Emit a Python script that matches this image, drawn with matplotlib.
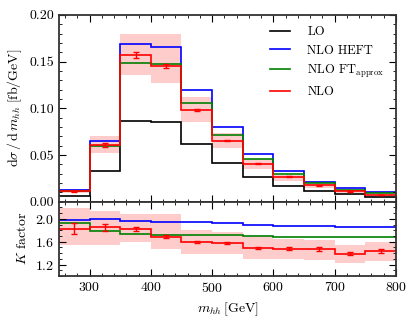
import numpy as np
import matplotlib
matplotlib.use("Agg")
import matplotlib.pyplot as plt
from matplotlib.ticker import MultipleLocator

plt.rcParams['font.family'] = 'serif'
plt.rcParams['font.serif'] = ['cmr10', 'DejaVu Serif']
plt.rcParams['mathtext.fontset'] = 'cm'
plt.rcParams['axes.formatter.use_mathtext'] = True
plt.rcParams['font.size'] = 10

# bin edges in m_hh [GeV]
edges = [250, 300, 350, 400, 450, 500, 550, 600, 650, 700, 750, 800]

# dsigma/dm_hh [fb/GeV]
lo = [0.0060, 0.033, 0.086, 0.085, 0.062, 0.0414, 0.0268, 0.0172, 0.0111, 0.0078, 0.0050]
nlo_heft = [0.0125, 0.065, 0.169, 0.166, 0.120, 0.080, 0.0514, 0.0329, 0.0214, 0.0147, 0.0104]
nlo_ft = [0.0115, 0.060, 0.149, 0.147, 0.106, 0.071, 0.046, 0.030, 0.0197, 0.0129, 0.0090]
nlo = [0.0110, 0.061, 0.157, 0.145, 0.098, 0.0654, 0.0407, 0.0265, 0.0175, 0.0112, 0.0072]
nlo_err = [0.0007, 0.002, 0.003, 0.002, 0.001, 0.0007, 0.0006, 0.0005, 0.0004, 0.0003, 0.0003]
nlo_band_hi = [0.0131, 0.070, 0.180, 0.180, 0.112, 0.074, 0.0456, 0.0282, 0.0192, 0.0124, 0.0080]
nlo_band_lo = [0.0092, 0.052, 0.136, 0.127, 0.085, 0.057, 0.0348, 0.0224, 0.0148, 0.0098, 0.0063]

# K factors
k_heft = [1.98, 1.99, 1.96, 1.95, 1.94, 1.92, 1.90, 1.88, 1.87, 1.86, 1.86]
k_ft = [1.92, 1.79, 1.74, 1.72, 1.72, 1.71, 1.70, 1.69, 1.69, 1.69, 1.69]
k_nlo = [1.83, 1.85, 1.82, 1.69, 1.59, 1.58, 1.49, 1.48, 1.47, 1.39, 1.44]
k_nlo_err = [0.09, 0.065, 0.035, 0.02, 0.015, 0.015, 0.02, 0.025, 0.03, 0.025, 0.035]
k_band_hi = [2.19, 2.13, 2.09, 2.09, 1.80, 1.77, 1.70, 1.64, 1.63, 1.55, 1.59]
k_band_lo = [1.54, 1.54, 1.59, 1.48, 1.38, 1.39, 1.30, 1.30, 1.28, 1.22, 1.26]

centers = [(edges[i] + edges[i + 1]) / 2 for i in range(len(edges) - 1)]

fig = plt.figure(figsize=(4.15, 3.24), dpi=100)
ax1 = fig.add_axes([0.142, 0.3775, 0.812, 0.5765])
ax2 = fig.add_axes([0.142, 0.148, 0.812, 0.2295], sharex=ax1)

lw = 1.2
# top panel
ax1.stairs(nlo_band_hi, edges, baseline=nlo_band_lo, fill=True, color='red', alpha=0.2, lw=0)
ax1.stairs(lo, edges, color='black', lw=lw, label='LO', baseline=None)
ax1.stairs(nlo_heft, edges, color='blue', lw=lw, label='NLO HEFT', baseline=None)
ax1.stairs(nlo_ft, edges, color='green', lw=lw, label=r'NLO FT$_{\mathrm{approx}}$', baseline=None)
ax1.stairs(nlo, edges, color='red', lw=lw, label='NLO', baseline=None)
ax1.errorbar(centers, nlo, yerr=nlo_err, fmt='none', ecolor='red', elinewidth=1, capsize=2)

ax1.set_ylim(0, 0.20)
ax1.set_xlim(250, 800)
ax1.yaxis.set_major_locator(MultipleLocator(0.05))
ax1.yaxis.set_minor_locator(MultipleLocator(0.01))
ax1.yaxis.set_major_formatter(matplotlib.ticker.FormatStrFormatter('%.2f'))
ax1.set_ylabel(r'$\mathrm{d}\sigma\,/\,\mathrm{d}\,m_{hh}\;[\mathrm{fb/GeV}]$')
ax1.tick_params(labelbottom=False)
ax1.legend(loc='upper right', frameon=False, handlelength=1.6, handletextpad=1.4,
           labelspacing=0.5, bbox_to_anchor=(1.0, 1.0), fontsize=9)

# bottom panel
ax2.stairs(k_band_hi, edges, baseline=k_band_lo, fill=True, color='red', alpha=0.2, lw=0)
ax2.stairs(k_heft, edges, color='blue', lw=lw, baseline=None)
ax2.stairs(k_ft, edges, color='green', lw=lw, baseline=None)
ax2.stairs(k_nlo, edges, color='red', lw=lw, baseline=None)
ax2.errorbar(centers, k_nlo, yerr=k_nlo_err, fmt='none', ecolor='red', elinewidth=1, capsize=2)
ax2.set_ylim(1.0, 2.3)
ax2.yaxis.set_major_locator(MultipleLocator(0.4))
ax2.yaxis.set_minor_locator(MultipleLocator(0.1))
ax2.set_yticks([1.2, 1.6, 2.0])
ax2.xaxis.set_major_locator(MultipleLocator(100))
ax2.xaxis.set_minor_locator(MultipleLocator(20))
ax2.set_ylabel(r'$K$ factor')
ax2.set_xlabel(r'$m_{hh}\,[\mathrm{GeV}]$')

for ax in (ax1, ax2):
    ax.tick_params(which='both', direction='in', top=True, right=True)
    ax.tick_params(which='major', length=5)
    ax.tick_params(which='minor', length=2.5)
    for s in ax.spines.values():
        s.set_linewidth(1.3)
        s.set_color('#333333')

fig.align_ylabels([ax1, ax2])
fig.savefig('out.png', dpi=100)
